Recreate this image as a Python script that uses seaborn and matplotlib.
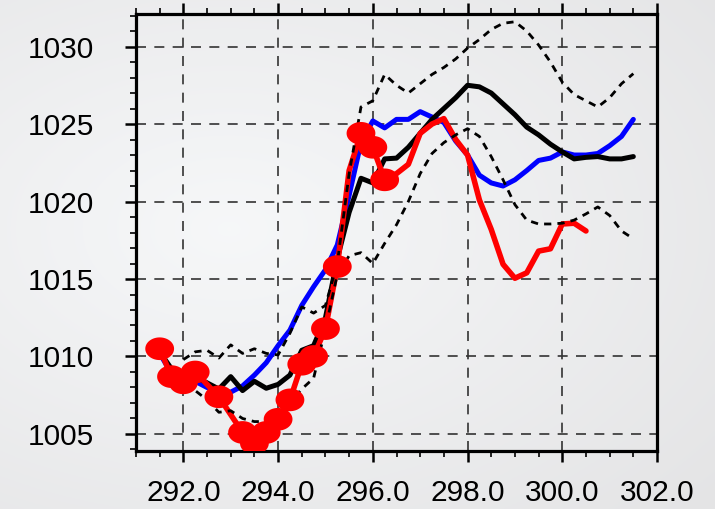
import numpy as np
import pandas as pd
import matplotlib
matplotlib.use("Agg")
import matplotlib.pyplot as plt
from matplotlib.path import Path
from matplotlib.ticker import MultipleLocator, FormatStrFormatter
import seaborn as sns

# ---- data -------------------------------------------------------------
grid_x = [291.5, 291.75, 292.0, 292.25, 292.5, 292.75, 293.0, 293.25, 293.5, 293.75,
          294.0, 294.25, 294.5, 294.75, 295.0, 295.25, 295.5, 295.75, 296.0, 296.25,
          296.5, 296.75, 297.0, 297.25, 297.5, 297.75, 298.0, 298.25, 298.5, 298.75,
          299.0, 299.25, 299.5, 299.75, 300.0, 300.25, 300.5, 300.75, 301.0, 301.25,
          301.5]

blue_y = [1010.2, 1008.9, 1008.5, 1008.4, 1008.0, 1007.8, 1007.7, 1008.1, 1008.8, 1009.6,
          1010.7, 1011.7, 1013.3, 1014.5, 1015.6, 1017.2, 1020.4, 1023.8, 1025.2, 1024.75,
          1025.3, 1025.3, 1025.8, 1025.45, 1025.1, 1023.9, 1023.0, 1021.7, 1021.2, 1021.0,
          1021.4, 1022.0, 1022.65, 1022.8, 1023.2, 1023.0, 1023.0, 1023.1, 1023.6, 1024.2,
          1025.3]

black_y = [1010.3, 1009.2, 1008.8, 1008.7, 1008.3, 1007.9, 1008.7, 1007.8, 1008.4, 1007.95,
           1008.2, 1008.8, 1010.4, 1010.7, 1012.5, 1016.3, 1019.3, 1021.5, 1021.2, 1022.75,
           1022.8, 1023.5, 1024.4, 1025.3, 1026.0, 1026.7, 1027.5, 1027.4, 1027.0, 1026.3,
           1025.6, 1024.8, 1024.3, 1023.7, 1023.2, 1022.75, 1022.85, 1022.9, 1022.75, 1022.75,
           1022.9]

band_x = grid_x[2:]
upper_y = [1009.8, 1010.3, 1010.4, 1009.9, 1010.75, 1010.2, 1010.5, 1010.2,
           1010.1, 1011.5, 1013.2, 1012.8, 1013.3, 1016.0, 1021.8, 1026.1, 1026.5, 1028.2,
           1027.5, 1027.0, 1027.6, 1028.2, 1028.65, 1029.2, 1029.9, 1030.45, 1031.1, 1031.5,
           1031.6, 1031.0, 1030.1, 1029.0, 1027.7, 1026.9, 1026.5, 1026.1, 1026.7, 1027.6,
           1028.25]
lower_y = [1008.0, 1007.8, 1007.2, 1006.4, 1006.5, 1006.0, 1005.8, 1005.8,
           1006.3, 1007.0, 1007.9, 1008.6, 1011.8, 1015.3, 1016.5, 1016.7, 1016.0, 1017.3,
           1018.5, 1020.0, 1021.8, 1023.1, 1023.8, 1024.3, 1024.7, 1024.2, 1022.9, 1021.4,
           1019.8, 1018.8, 1018.55, 1018.55, 1018.6, 1018.8, 1019.2, 1019.65, 1019.1, 1018.1,
           1017.6]

red_x = [291.5, 291.75, 292.0, 292.25, 292.75, 293.25, 293.5, 293.75, 294.0, 294.25,
         294.5, 294.75, 295.0, 295.25, 295.5, 295.75, 296.0, 296.25, 296.5, 296.75,
         297.0, 297.25, 297.5, 297.75, 298.0, 298.25, 298.5, 298.75, 299.0, 299.25,
         299.5, 299.75, 300.0, 300.25, 300.5]
red_y = [1010.5, 1008.7, 1008.3, 1009.0, 1007.4, 1005.1, 1004.4, 1005.1, 1005.95, 1007.2,
         1009.5, 1010.0, 1011.8, 1015.8, 1022.0, 1024.4, 1023.5, 1021.4, 1021.8, 1022.4,
         1024.4, 1025.0, 1025.35, 1024.0, 1023.0, 1020.1, 1018.2, 1015.95, 1015.05, 1015.4,
         1016.8, 1016.95, 1018.55, 1018.6, 1018.1]
red_marked = [True] * 14 + [False] + [True] * 3 + [False] * 17

x_ticks = [292.0, 294.0, 296.0, 298.0, 300.0, 302.0]
y_ticks = [1005, 1010, 1015, 1020, 1025, 1030]

# ---- figure -----------------------------------------------------------
sns.set_theme(style="ticks")
plt.rcParams["font.family"] = ["Liberation Sans", "DejaVu Sans"]

fig = plt.figure(figsize=(7.15, 5.09), dpi=100)

# soft grey backdrop
bg = fig.add_axes([0, 0, 1, 1], zorder=-10)
yy, xx = np.mgrid[0:1:300j, 0:1:420j]
r = np.sqrt(((xx - 0.32) / 1.0) ** 2 + ((yy - 0.45) / 0.9) ** 2)
shade = np.clip(r / 0.9, 0, 1)
light = np.array([0.965, 0.970, 0.975])
dark = np.array([0.895, 0.895, 0.900])
img = light[None, None, :] * (1 - shade[..., None]) + dark[None, None, :] * shade[..., None]
bg.imshow(img, aspect="auto", extent=[0, 1, 0, 1], origin="upper")
bg.set_axis_off()

ax = fig.add_axes([0.1902, 0.1139, 0.7287, 0.8586])
ax.set_facecolor("none")

dash = (0, (2.6, 2.2))
sns.lineplot(x=grid_x, y=blue_y, ax=ax, color="#0000ff", linewidth=3.6, sort=False, zorder=3)
sns.lineplot(x=grid_x, y=black_y, ax=ax, color="black", linewidth=3.6, sort=False, zorder=4)
sns.lineplot(x=red_x, y=red_y, ax=ax, color="#ff0000", linewidth=4.0, sort=False, zorder=5)
sns.lineplot(x=band_x, y=upper_y, ax=ax, color="black", linewidth=2.0, linestyle=dash,
             sort=False, zorder=6)
sns.lineplot(x=band_x, y=lower_y, ax=ax, color="black", linewidth=2.0, linestyle=dash,
             sort=False, zorder=6)

# wide oval markers on the red track
theta = np.linspace(0, 2 * np.pi, 60)
oval = Path(np.column_stack([1.27 * np.cos(theta), np.sin(theta)]), closed=True)
marks = pd.DataFrame({"x": red_x, "y": red_y, "m": red_marked})
marks = marks[marks["m"]]
sns.scatterplot(data=marks, x="x", y="y", ax=ax, marker=oval, s=430, color="#ff0000",
                edgecolor="none", linewidth=0, zorder=7)

ax.set_xlim(291.0, 302.0)
ax.set_ylim(1003.9, 1032.1)
ax.set_xticks(x_ticks)
ax.set_yticks(y_ticks)
ax.xaxis.set_minor_locator(MultipleLocator(0.5))
ax.yaxis.set_minor_locator(MultipleLocator(1))
ax.xaxis.set_major_formatter(FormatStrFormatter("%.1f"))
ax.yaxis.set_major_formatter(FormatStrFormatter("%d"))
ax.set_xlabel("")
ax.set_ylabel("")

ax.grid(True, which="major", color="#333333", linewidth=1.2, linestyle=(0, (6, 5)))
ax.set_axisbelow(True)

for s in ax.spines.values():
    s.set_linewidth(2.3)
    s.set_color("black")
    s.set_visible(True)

ax.tick_params(axis="both", which="major", direction="out", length=8, width=1.8,
               color="black", labelsize=21.5, labelcolor="black")
ax.tick_params(axis="both", which="minor", direction="out", length=4, width=1.2,
               color="black")
ax.tick_params(axis="x", which="both", top=True, bottom=True, pad=12)
ax.tick_params(axis="y", which="both", left=True, right=False, pad=22)

fig.savefig("out.png", dpi=100)
